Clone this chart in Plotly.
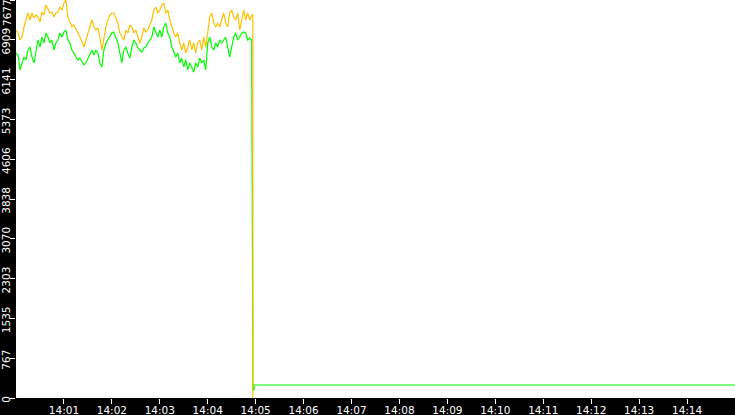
import pandas as pd
import plotly.graph_objects as go

DAY = "2024-05-20 "

# Orange series (samples every 2.5 s from 14:00:00)
orange_vals = [7098,7040,6905,6963,7156,7291,7426,7291,7426,7330,7388,7349,7253,7446,7388,7581,7484,7426,7446,7349,
               7426,7446,7542,7484,7619,7677,7349,7233,7156,7195,7098,7040,6963,6848,6770,6905,7040,7156,7291,7156,
               7098,7137,6963,6713,6963,7156,7291,7388,7426,7426,7330,7233,7040,6963,6905,7098,7040,7195,7156,7040,
               7098,6963,6848,6963,7137,7060,7098,7195,7291,7484,7542,7426,7484,7581,7619,7426,7484,7291,7156,7040,
               6963,7040,6848,6713,6848,6655,6770,6905,6713,6848,6655,6848,6905,6713,6963,6770,7040,7349,7426,7233,
               7156,7233,7156,7291,7426,7233,7156,7426,7484,7349,7291,7426,7098,7291,7484,7291,7426,7291,7388]
# Green series (same sampling)
green_vals = [6655,6616,6327,6462,6578,6520,6713,6770,6578,6462,6713,6905,6770,6963,6848,7040,6963,6848,6905,6713,
              6848,6905,7040,6963,7060,7098,6905,6848,6713,6655,6578,6520,6558,6481,6423,6462,6558,6655,6713,6616,
              6713,6655,6462,6385,6713,6848,6905,6963,7040,7060,6963,6848,6655,6462,6713,6770,6655,6558,6770,6905,
              6848,6751,6713,6674,6751,6770,6848,6905,6963,7156,7040,6963,7098,6963,7156,7233,7040,6963,6770,6655,
              6578,6655,6462,6558,6385,6520,6327,6462,6385,6288,6462,6385,6558,6462,6520,6327,6848,6963,6770,6713,
              6848,6770,6905,6848,6905,6963,6770,6578,6770,6963,7040,6905,6963,7040,7060,7040,6905,6944,6905]

# Tail after the drop
orange_tail_times = ["14:04:56.500", "14:04:56.600"]
orange_tail_vals = [7388, 0]
green_tail_times = ["14:04:55.400", "14:04:55.700", "14:04:56.600", "14:04:58.000", "14:04:58.100", "14:15:00"]
green_tail_vals = [3684, 3472, 154, 154, 251, 251]

x_tick_labels = ["14:01", "14:02", "14:03", "14:04", "14:05", "14:06", "14:07",
                 "14:08", "14:09", "14:10", "14:11", "14:12", "14:13", "14:14"]
y_tick_labels = ["0", "767", "1535", "2303", "3070", "3838", "4606", "5373", "6141", "6909", "7677"]
y_max = 7677

main_times = list(pd.date_range(DAY + "14:00:00", periods=len(orange_vals), freq="2500ms"))
ox = main_times + [pd.Timestamp(DAY + t) for t in orange_tail_times]
oy = orange_vals + orange_tail_vals
gx = list(pd.date_range(DAY + "14:00:00", periods=len(green_vals), freq="2500ms")) + \
     [pd.Timestamp(DAY + t) for t in green_tail_times]
gy = green_vals + green_tail_vals

font = dict(family="DejaVu Sans", size=10.5, color="white")

fig = go.Figure()
fig.add_trace(go.Scatter(x=gx, y=gy, mode="lines", line=dict(color="#00ff00", width=1.2),
                         hoverinfo="skip", showlegend=False))
fig.add_trace(go.Scatter(x=ox, y=oy, mode="lines", line=dict(color="#ffc000", width=1.2),
                         hoverinfo="skip", showlegend=False))

# the top tick label sits inside the figure, below its tick (as in the reference)
axis_labels = y_tick_labels[:-1] + [""]
fig.add_annotation(
    text=y_tick_labels[-1], textangle=-90, font=font, showarrow=False,
    xref="paper", yref="paper", x=0, y=1, xanchor="center", yanchor="middle",
    xshift=-9, yshift=-13,
)

fig.update_layout(
    width=735, height=415,
    margin=dict(l=16, r=0, t=0, b=17, pad=0),
    paper_bgcolor="black", plot_bgcolor="white",
    font=font, showlegend=False,
    xaxis=dict(
        range=[DAY + "14:00:00", DAY + "14:15:00"],
        tickvals=[DAY + t + ":00" for t in x_tick_labels],
        ticktext=x_tick_labels,
        ticks="outside", ticklen=5, tickcolor="white", tickwidth=1,
        showgrid=False, zeroline=False, showline=False,
        tickfont=font, automargin=False, ticklabelstandoff=-3,
    ),
    yaxis=dict(
        range=[0, y_max],
        tickvals=[y_max * i / 10 for i in range(11)],
        ticktext=axis_labels,
        tickangle=-90,
        ticks="outside", ticklen=5, tickcolor="white", tickwidth=1,
        showgrid=False, zeroline=False, showline=False,
        tickfont=font, automargin=False, ticklabelstandoff=-4, ticklabelshift=3,
    ),
)

fig.write_html(
    "out.html",
    config={"displayModeBar": False},
    post_script="document.body.style.margin='0';document.body.style.padding='0';"
                "document.body.style.overflow='hidden';document.body.style.background='black';",
)
